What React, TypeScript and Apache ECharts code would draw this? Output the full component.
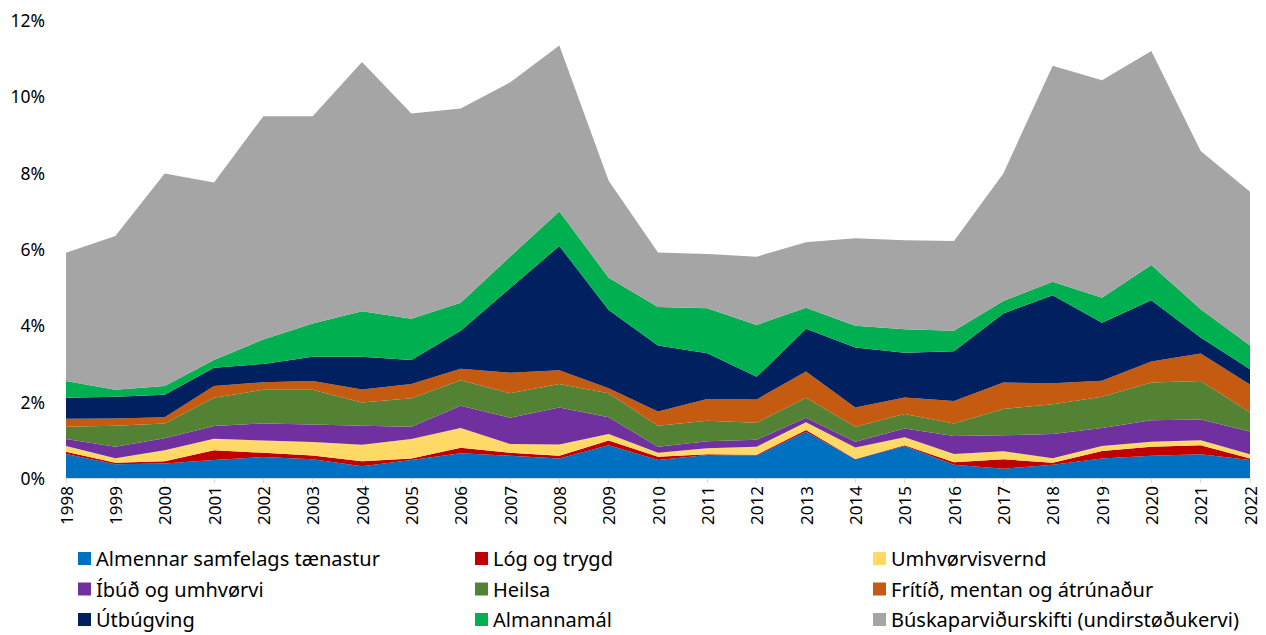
import React, { useEffect, useRef } from "react";
import * as echarts from "echarts";

const years = ["1998","1999","2000","2001","2002","2003","2004","2005","2006","2007","2008","2009","2010","2011","2012","2013","2014","2015","2016","2017","2018","2019","2020","2021","2022"];

const yTicks = [0, 2, 4, 6, 8, 10, 12];

const seriesNames = [
  "Almennar samfelags tænastur",
  "Lóg og trygd",
  "Umhvørvisvernd",
  "Íbúð og umhvørvi",
  "Heilsa",
  "Frítíð, mentan og átrúnaður",
  "Útbúgving",
  "Almannamál",
  "Búskaparviðurskifti (undirstøðukervi)",
];

const colors = ["#0070C0", "#C00000", "#FFD966", "#7030A0", "#548235", "#C55A11", "#002060", "#00B050", "#A5A5A5"];

const almennar = [0.63,0.36,0.38,0.47,0.55,0.49,0.31,0.47,0.65,0.58,0.51,0.86,0.47,0.60,0.59,1.21,0.49,0.84,0.35,0.24,0.35,0.51,0.58,0.62,0.47];
const log = [0.06,0.04,0.06,0.26,0.11,0.10,0.13,0.04,0.14,0.08,0.07,0.12,0.09,0.02,0.02,0.05,0.01,0.02,0.06,0.25,0.05,0.20,0.24,0.24,0.04];
const umhvorvisvernd = [0.15,0.12,0.29,0.30,0.32,0.35,0.43,0.51,0.52,0.23,0.30,0.17,0.10,0.16,0.21,0.20,0.30,0.21,0.22,0.21,0.12,0.13,0.13,0.13,0.11];
const ibud = [0.18,0.30,0.31,0.33,0.45,0.46,0.50,0.32,0.58,0.69,0.97,0.44,0.16,0.18,0.18,0.12,0.15,0.23,0.47,0.42,0.63,0.47,0.56,0.54,0.60];
const heilsa = [0.32,0.55,0.39,0.74,0.88,0.91,0.61,0.75,0.67,0.64,0.61,0.63,0.55,0.54,0.45,0.52,0.39,0.38,0.33,0.69,0.78,0.82,0.99,1.01,0.50];
const fritid = [0.21,0.19,0.16,0.31,0.20,0.23,0.34,0.37,0.30,0.54,0.36,0.13,0.37,0.57,0.61,0.69,0.51,0.43,0.59,0.69,0.55,0.42,0.55,0.72,0.73];
const utbugving = [0.55,0.57,0.59,0.48,0.48,0.64,0.86,0.63,1.00,2.21,3.26,2.05,1.73,1.20,0.59,1.12,1.57,1.17,1.30,1.81,2.31,1.52,1.61,0.42,0.40];
const almannamal = [0.44,0.18,0.23,0.20,0.64,0.87,1.19,1.08,0.73,0.83,0.90,0.85,1.01,1.18,1.36,0.55,0.57,0.62,0.54,0.33,0.35,0.65,0.92,0.74,0.62];
const buskapar = [3.36,4.03,5.57,4.65,5.85,5.43,6.53,5.38,5.09,4.56,4.35,2.54,1.43,1.42,1.79,1.72,2.29,2.33,2.35,3.34,5.66,5.70,5.61,4.15,4.03];

const seriesData = [almennar, log, umhvorvisvernd, ibud, heilsa, fritid, utbugving, almannamal, buskapar];

const FONT = "'Noto Sans', 'Open Sans', sans-serif";

export default function App() {
  const ref = useRef<HTMLDivElement>(null);
  useEffect(() => {
    if (!ref.current) return;
    const chart = echarts.init(ref.current, undefined, { renderer: "svg" });
    const legendCols = [
      [seriesNames[0], seriesNames[3], seriesNames[6]],
      [seriesNames[1], seriesNames[4], seriesNames[7]],
      [seriesNames[2], seriesNames[5], seriesNames[8]],
    ];
    const colX = [78, 475, 873];
    chart.setOption({
      animation: false,
      color: colors,
      textStyle: { fontFamily: FONT },
      grid: { left: 66, right: 16, top: 20, bottom: 157, containLabel: false },
      legend: legendCols.map((col, i) => ({
        data: col,
        orient: "vertical",
        left: colX[i],
        top: 548,
        icon: "rect",
        itemWidth: 13,
        itemHeight: 13,
        itemGap: 9.5,
        padding: 0,
        selectedMode: false,
        textStyle: { fontSize: 20, color: "#000", fontFamily: FONT, lineHeight: 21 },
      })),
      xAxis: {
        type: "category",
        data: years,
        boundaryGap: false,
        axisLine: { lineStyle: { color: "#D9D9D9", width: 1 } },
        axisTick: { show: true, length: 5, lineStyle: { color: "#D9D9D9" } },
        axisLabel: { rotate: 90, interval: 0, fontSize: 17, color: "#000", fontFamily: FONT, margin: 8 },
      },
      yAxis: {
        type: "value",
        min: yTicks[0],
        max: yTicks[yTicks.length - 1],
        interval: 2,
        splitLine: { show: false },
        axisLine: { show: false },
        axisTick: { show: false },
        axisLabel: { formatter: (v: number) => v + "%", fontSize: 17.5, color: "#000", fontFamily: FONT, margin: 21 },
      },
      series: seriesNames.map((name, i) => ({
        name,
        type: "line",
        stack: "total",
        data: seriesData[i],
        symbol: "none",
        lineStyle: { width: 0 },
        areaStyle: { color: colors[i], opacity: 1 },
        itemStyle: { color: colors[i] },
      })),
    });
    return () => chart.dispose();
  }, []);
  return <div ref={ref} style={{ position: "fixed", left: 0, top: 0, width: 1266, height: 635, background: "#fff" }} />;
}
